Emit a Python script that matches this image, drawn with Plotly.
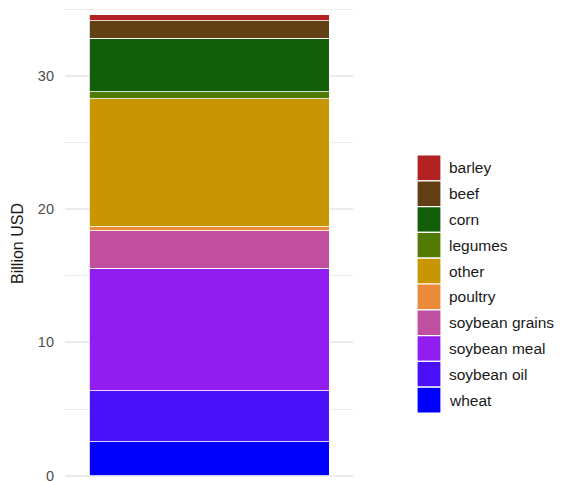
import plotly.graph_objects as go

categories = [""]
series_names = ["wheat", "soybean oil", "soybean meal", "soybean grains", "poultry",
                "other", "legumes", "corn", "beef", "barley"]
series_values = [2.53, 3.85, 9.18, 2.80, 0.30, 9.60, 0.53, 4.02, 1.30, 0.47]
series_colors = ["#0000FF", "#4A11F8", "#911DF0", "#C04FA0", "#EB8A3A",
                 "#C89600", "#507A01", "#135E08", "#633F14", "#B22222"]
y_ticks = [0, 10, 20, 30]
y_minor = [5, 15, 25, 35]

fig = go.Figure()
for name, val, col in zip(series_names, series_values, series_colors):
    fig.add_trace(go.Bar(x=categories, y=[val], name=name, width=0.9,
                         marker=dict(color=col, line=dict(color="white", width=0.8)),
                         showlegend=False))

# layout geometry (pixels); page has an 8px body margin
OFF = 8
W, H = 563 - OFF, 481 - OFF
ml, mr, mt, mb = 65 - OFF, 210, 0, 2
pw, ph = W - ml - mr, H - mt - mb

def px(x):
    return (x - OFF - ml) / pw

def py(y):
    return (H - mb - (y - OFF)) / ph

# custom legend (top item first: reversed stacking order)
leg_items = list(zip(series_names, series_colors))[::-1]
shapes = []
annotations = []
top, pitch = 155, 25.8
for i, (name, col) in enumerate(leg_items):
    y0 = top + i * pitch
    y1 = y0 + pitch
    shapes.append(dict(type="rect", xref="paper", yref="paper",
                       x0=px(417), x1=px(441), y0=py(y1), y1=py(y0),
                       fillcolor=col, line=dict(color="white", width=1.2)))
    annotations.append(dict(xref="paper", yref="paper", x=px(447), y=py((y0 + y1) / 2),
                            text=name, showarrow=False, xanchor="left", yanchor="middle",
                            font=dict(size=15.5, color="#1A1A1A")))

fig.update_layout(
    width=W, height=H,
    margin=dict(l=ml, r=mr, t=mt, b=mb, autoexpand=False),
    barmode="stack",
    plot_bgcolor="white", paper_bgcolor="white",
    font=dict(family="Liberation Sans, Arial, sans-serif"),
    showlegend=False,
    shapes=shapes,
    annotations=annotations,
    xaxis=dict(range=[-0.54, 0.54], showticklabels=False, showgrid=False,
               zeroline=False, ticks="", automargin=False),
    yaxis=dict(range=[-0.25, 35.08], tickvals=y_ticks, ticktext=[str(v) for v in y_ticks],
               showgrid=True, gridcolor="#EBEBEB", gridwidth=1.5, zeroline=False,
               tickfont=dict(size=14.5, color="#4D4D4D"), ticks="", ticklabelstandoff=10,
               ticklabeloverflow="allow", automargin=False,
               minor=dict(tickvals=y_minor, showgrid=True, gridcolor="#EBEBEB", gridwidth=1),
               title=dict(text="Billion USD", font=dict(size=16, color="#1A1A1A"), standoff=10)),
)

fig.write_html("out.html")
